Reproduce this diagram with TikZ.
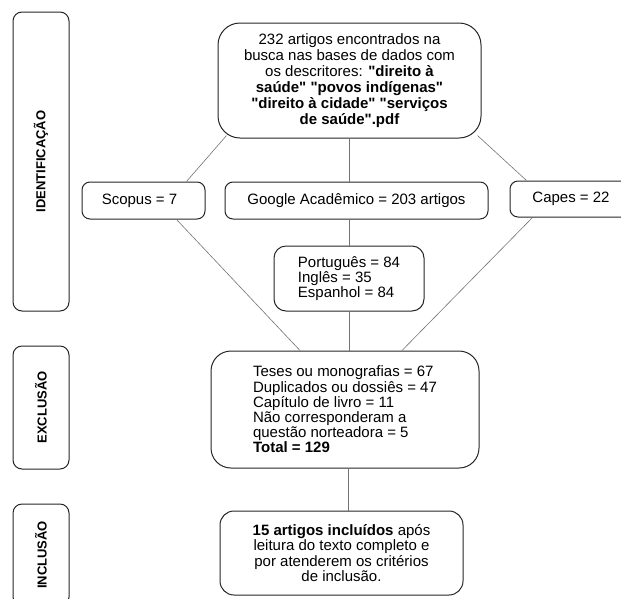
\documentclass[tikz,border=0pt]{standalone}
\usepackage{fontspec}
\setmainfont{Liberation Sans}[Ligatures=TeXOff]

\tikzset{
  caixa/.style={draw=black!85, line width=1pt, fill=white, align=center, inner sep=0pt,
    font=\fontsize{15}{15.2}\selectfont},
  etapa/.style={draw=black!85, line width=1pt, fill=white, rounded corners=9pt, rotate=90,
    minimum height=56pt, inner sep=0pt, font=\bfseries\fontsize{13}{13}\selectfont},
  ligacao/.style={draw=black!55, line width=0.6pt}
}

\begin{document}
\begin{tikzpicture}[x=1pt,y=-1pt]
		\useasboundingbox (0,0) rectangle (621,598);
		%Etapas
		\node[etapa, minimum width=299pt] (ident) at (41,161.5) {IDENTIFICAÇÃO};
		\node[etapa, minimum width=123pt] (excl) at (41,407.5) {EXCLUSÃO};
		\node[etapa, minimum width=102pt] (incl) at (41,555) {INCLUSÃO};
		%Busca
		\node[caixa, rounded corners=22pt, minimum width=263pt, minimum height=115pt,
		  font=\fontsize{15}{16}\selectfont] (busca) at (349.5,80.5)
		  {232 artigos encontrados na\\busca nas bases de dados com\\
		   os descritores: \textbf{"direito à}\\\textbf{saúde" "povos indígenas"}\\
		   \textbf{"direito à cidade" "serviços}\\\textbf{de saúde".pdf}};
		\node[caixa, rounded corners=8pt, minimum width=123pt, minimum height=37pt] (scopus) at (143.5,200.5) {Scopus = 7\hspace{8pt}};
		\node[caixa, rounded corners=8pt, minimum width=263pt, minimum height=37pt] (google) at (356.5,200.5) {Google Acadêmico = 203 artigos};
		\node[caixa, rounded corners=8pt, minimum width=122pt, minimum height=36pt] (capes) at (571,199) {Capes = 22};
		\node[caixa, rounded corners=12pt, minimum width=150pt, minimum height=65pt, align=left] (linguas) at (349,278.5)
		  {Português = 84\\Inglês = 35\\Espanhol = 84};
		%Exclusao e inclusao
		\node[caixa, rounded corners=20pt, minimum width=268pt, minimum height=117pt, align=left] (exclusao) at (345,409.5)
		  {Teses ou monografias = 67\\Duplicados ou dossiês = 47\\Capítulo de livro = 11\\
		   Não corresponderam a\\questão norteadora = 5\\\textbf{Total = 129}};
		\node[caixa, rounded corners=14pt, minimum width=243pt, minimum height=84pt] (inclusao) at (341.5,553)
		  {\textbf{15 artigos incluídos} após\\leitura do texto completo e\\
		   por atenderem os critérios\\de inclusão.};
		%Ligacoes
		\draw[ligacao] ([xshift=9pt,yshift=3pt]busca.south west) -- ([xshift=-19pt]scopus.north east);
		\draw[ligacao] (busca.south) -- (busca.south |- google.north);
		\draw[ligacao] ([xshift=-4pt,yshift=3pt]busca.south east) -- ([xshift=17pt]capes.north west);
		\draw[ligacao] (linguas.north) -- (linguas.north |- google.south);
		\draw[ligacao] ([xshift=-29pt]scopus.south east) -- ([xshift=-45pt]exclusao.north);
		\draw[ligacao] (linguas.south) -- (linguas.south |- exclusao.north);
		\draw[ligacao] ([xshift=23pt]capes.south west) -- ([xshift=57pt]exclusao.north);
		\draw[ligacao] ([xshift=3pt]exclusao.south) -- ([xshift=3pt]exclusao.south |- inclusao.north);
		\end{tikzpicture}
\end{document}
